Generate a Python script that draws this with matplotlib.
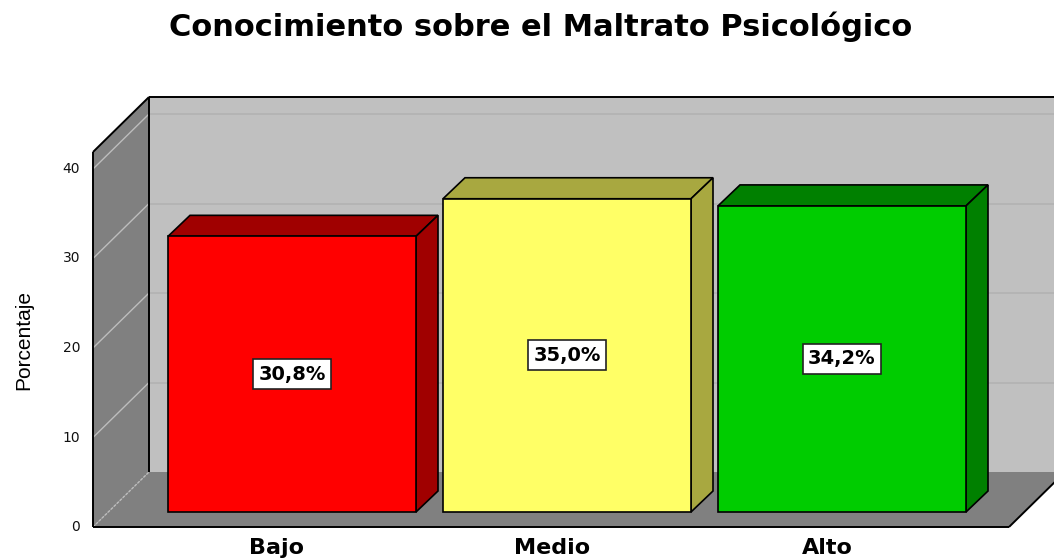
import matplotlib
matplotlib.use("Agg")
import matplotlib.pyplot as plt
from matplotlib.patches import Polygon

categories = ["Bajo", "Medio", "Alto"]
values = [30.8, 35.0, 34.2]
labels = ["30,8%", "35,0%", "34,2%"]
yticks = [0, 10, 20, 30, 40]

front_colors = ["#FF0000", "#FFFF66", "#00CC00"]
dark_colors = ["#A00000", "#A8A840", "#008000"]

# pixel scale of the projection (px per category, px per percent)
PX_X, PX_Y = 275.0, 8.95
X0_PX, Y0_PX = 277, 527
W_PX, H_PX = 1054, 560

# wall / floor geometry in data units
XL = (93 - X0_PX) / PX_X
XR = (1009 - X0_PX) / PX_X
YMAX = (Y0_PX - 152) / PX_Y
DX, DY = 56 / PX_X, 55 / PX_Y

# bar geometry
BOFF_X, BOFF_Y = 15 / PX_X, 15 / PX_Y
BW = 248 / PX_X
BDX, BDY = 22 / PX_X, 21 / PX_Y

fig = plt.figure(figsize=(W_PX / 100, H_PX / 100), dpi=100)
ax = fig.add_axes([0, 0, 1, 1])
ax.set_xlim(-X0_PX / PX_X, (W_PX - X0_PX) / PX_X)
ax.set_ylim(-(H_PX - Y0_PX) / PX_Y, Y0_PX / PX_Y)
ax.axis("off")

XBR = XR + DX + 1  # back wall runs past the right edge

# back wall
ax.add_patch(Polygon([(XL + DX, DY), (XBR, DY), (XBR, YMAX + DY), (XL + DX, YMAX + DY)],
                     closed=True, facecolor="#C0C0C0", edgecolor="none", zorder=0))
# left wall
ax.add_patch(Polygon([(XL, 0), (XL + DX, DY), (XL + DX, YMAX + DY), (XL, YMAX)],
                     closed=True, facecolor="#808080", edgecolor="none", zorder=0))
# floor
ax.add_patch(Polygon([(XL, 0), (XR, 0), (XR + DX, DY), (XL + DX, DY)],
                     closed=True, facecolor="#808080", edgecolor="none", zorder=0))

# grid lines
for v in yticks[1:]:
    ax.plot([XL + DX, XBR], [v + DY, v + DY], color="#B2B2B2", lw=1.2, zorder=1)
for v in yticks:
    ax.plot([XL, XL + DX], [v, v + DY], color="#BDBDBD", lw=1.0, zorder=1,
            ls=(0, (2, 1)) if v == 0 else "-")

# edges
k = dict(color="black", lw=1.4, solid_capstyle="butt", zorder=2)
ax.plot([XL, XL], [0, YMAX], **k)
ax.plot([XL, XL + DX], [YMAX, YMAX + DY], **k)
ax.plot([XL + DX, XBR], [YMAX + DY, YMAX + DY], **k)
ax.plot([XL + DX, XL + DX], [DY, YMAX + DY], **k)
ax.plot([XL, XR], [0, 0], **k)
ax.plot([XR, XR + DX], [0, DY], **k)

# bars
for i, (v, lab) in enumerate(zip(values, labels)):
    xc = i + BOFF_X
    x1, x2 = xc - BW / 2, xc + BW / 2
    y1, y2 = BOFF_Y, BOFF_Y + v
    ax.add_patch(Polygon([(x1, y2), (x2, y2), (x2 + BDX, y2 + BDY), (x1 + BDX, y2 + BDY)],
                         closed=True, facecolor=dark_colors[i], edgecolor="black", lw=1.2, zorder=3))
    ax.add_patch(Polygon([(x2, y1), (x2 + BDX, y1 + BDY), (x2 + BDX, y2 + BDY), (x2, y2)],
                         closed=True, facecolor=dark_colors[i], edgecolor="black", lw=1.2, zorder=3))
    ax.add_patch(Polygon([(x1, y1), (x2, y1), (x2, y2), (x1, y2)],
                         closed=True, facecolor=front_colors[i], edgecolor="black", lw=1.2, zorder=3))
    ax.text(xc, y1 + v / 2, lab, ha="center", va="center", fontsize=14,
            fontweight="bold", family="DejaVu Sans", zorder=4,
            bbox=dict(boxstyle="square,pad=0.28", facecolor="white", edgecolor="#222222", lw=1.2))

# axis labels
for v in yticks:
    ax.text(XL - 13 / PX_X, v, str(v), ha="right", va="center", fontsize=10, color="#111111")
for i, c in enumerate(categories):
    ax.text(i, -21 / PX_Y, c, ha="center", va="center", fontsize=16, fontweight="bold")

ax.text((24 - X0_PX) / PX_X, (Y0_PX - 340) / PX_Y, "Porcentaje", rotation=90,
        ha="center", va="center", fontsize=15, fontweight="medium",
        family=["Liberation Sans Narrow", "Liberation Sans"])

fig.text(541 / W_PX, 1 - 27 / H_PX, "Conocimiento sobre el Maltrato Psicológico",
         ha="center", va="center", fontsize=22, fontweight="bold")

fig.savefig("out.png", dpi=100, facecolor="white")
